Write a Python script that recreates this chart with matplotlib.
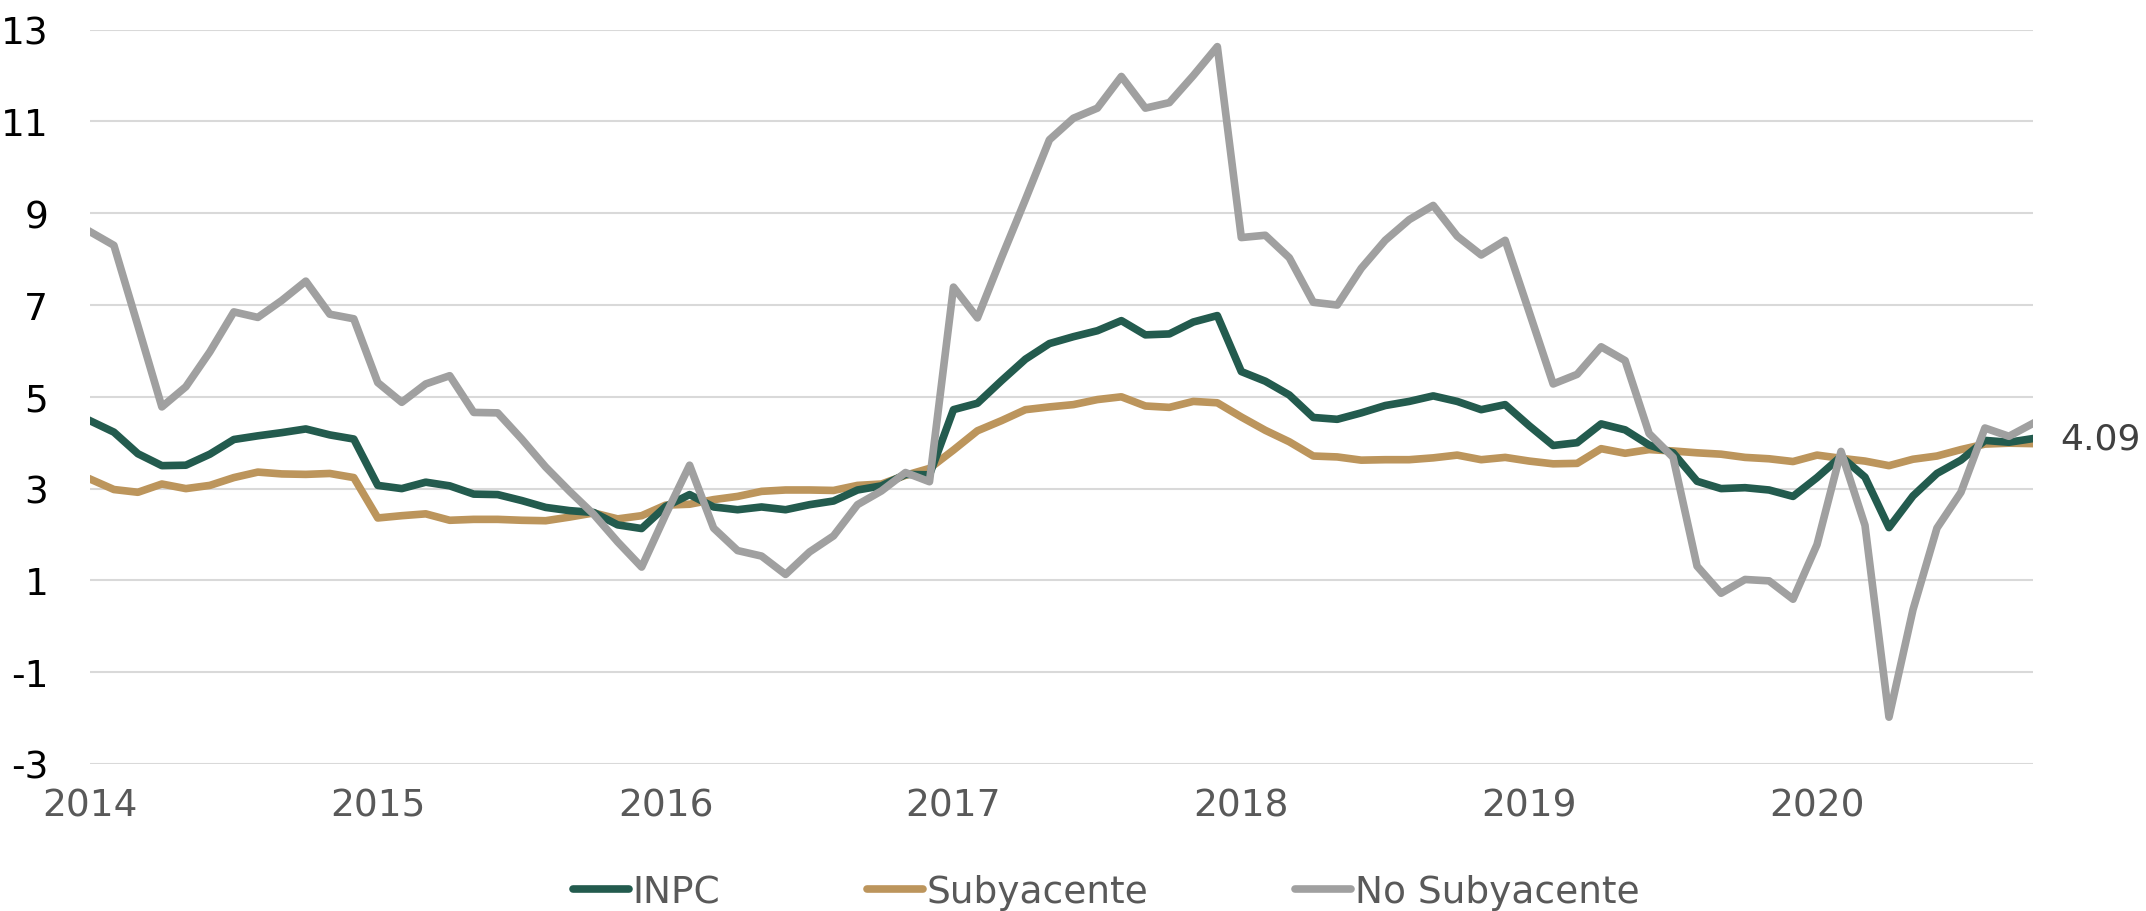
# Inflacion anual en Mexico: INPC, subyacente y no subyacente, 2014-2020
import matplotlib.pyplot as plt
import numpy as np

plt.rcParams['axes.unicode_minus'] = False

# monthly series, Jan 2014 to Oct 2020
years = ['2014', '2015', '2016', '2017', '2018', '2019', '2020']

inpc = [4.48, 4.23, 3.76, 3.50, 3.51, 3.75, 4.07, 4.15, 4.22, 4.30, 4.17, 4.08,
        3.07, 3.00, 3.14, 3.06, 2.88, 2.87, 2.74, 2.59, 2.52, 2.48, 2.21, 2.13,
        2.61, 2.87, 2.60, 2.54, 2.60, 2.54, 2.65, 2.73, 2.97, 3.06, 3.31, 3.30,
        4.72, 4.86, 5.35, 5.82, 6.16, 6.31, 6.44, 6.66, 6.35, 6.37, 6.63, 6.77,
        5.55, 5.34, 5.04, 4.55, 4.51, 4.65, 4.81, 4.90, 5.02, 4.90, 4.72, 4.83,
        4.37, 3.94, 4.00, 4.41, 4.28, 3.95, 3.78, 3.16, 3.00, 3.02, 2.97, 2.83,
        3.24, 3.70, 3.25, 2.15, 2.84, 3.33, 3.62, 4.05, 4.01, 4.09]

subyacente = [3.21, 2.98, 2.92, 3.10, 3.00, 3.07, 3.24, 3.36, 3.32, 3.31, 3.33, 3.24,
              2.36, 2.41, 2.45, 2.31, 2.33, 2.33, 2.31, 2.30, 2.38, 2.47, 2.34, 2.41,
              2.64, 2.66, 2.76, 2.83, 2.94, 2.97, 2.97, 2.96, 3.07, 3.10, 3.29, 3.44,
              3.84, 4.26, 4.48, 4.72, 4.78, 4.83, 4.94, 5.00, 4.80, 4.77, 4.90, 4.87,
              4.56, 4.27, 4.02, 3.71, 3.69, 3.62, 3.63, 3.63, 3.67, 3.73, 3.63, 3.68,
              3.60, 3.54, 3.55, 3.87, 3.77, 3.85, 3.82, 3.78, 3.75, 3.68, 3.65, 3.59,
              3.73, 3.66, 3.60, 3.50, 3.64, 3.71, 3.85, 3.97, 3.99, 3.98]

no_subyacente = [8.60, 8.30, 6.55, 4.78, 5.22, 5.98, 6.85, 6.73, 7.10, 7.52, 6.80, 6.70,
                 5.31, 4.88, 5.28, 5.46, 4.66, 4.65, 4.08, 3.47, 2.94, 2.44, 1.84, 1.29,
                 2.43, 3.51, 2.14, 1.65, 1.53, 1.13, 1.62, 1.97, 2.65, 2.95, 3.35, 3.15,
                 7.39, 6.72, 8.03, 9.30, 10.60, 11.07, 11.29, 11.98, 11.29, 11.41, 12.00, 12.63,
                 8.47, 8.52, 8.03, 7.06, 7.00, 7.80, 8.41, 8.86, 9.17, 8.50, 8.09, 8.41,
                 6.85, 5.28, 5.49, 6.09, 5.79, 4.20, 3.68, 1.31, 0.72, 1.02, 0.99, 0.59,
                 1.78, 3.81, 2.20, -1.98, 0.36, 2.14, 2.92, 4.32, 4.14, 4.42]

months = np.arange(len(inpc))

fig = plt.figure(figsize=(21.46, 9.12), dpi=100)
ax = fig.add_axes([0.0419, 0.1612, 0.9054, 0.8052])

ax.plot(months, inpc, color='#235B4E', lw=5.5, label='INPC', zorder=3)
ax.plot(months, subyacente, color='#BC955C', lw=5.5, label='Subyacente', zorder=2)
ax.plot(months, no_subyacente, color='#A0A0A0', lw=5.5, label='No Subyacente', zorder=4)

ax.set_xlim(0, len(inpc) - 1)
ax.set_ylim(-3, 13)
ax.set_yticks(np.arange(-3, 14, 2))
ax.set_xticks(np.arange(len(years)) * 12)
ax.set_xticklabels(years)

ax.grid(axis='y', color='#d9d9d9', lw=1.5)
ax.set_axisbelow(True)
for s in ax.spines.values():
    s.set_visible(False)
ax.tick_params(axis='y', length=0, pad=30, labelsize=27, labelcolor='black')
ax.tick_params(axis='x', length=0, pad=17, labelsize=27, labelcolor='#595959')

# last value label
ax.annotate(f'{inpc[-1]:.2f}', xy=(months[-1], inpc[-1]), xytext=(20, 0),
            textcoords='offset points', va='center', ha='left',
            fontsize=26, color='#404040', annotation_clip=False)

leg = fig.legend(loc='center', bbox_to_anchor=(0.5154, 0.0208), ncol=3,
                 frameon=False, fontsize=27, handlelength=1.5, handletextpad=0.1,
                 columnspacing=3.9, labelcolor='#595959')
for line in leg.get_lines():
    line.set_solid_capstyle('round')
    line.set_linewidth(5.5)

fig.savefig('out.png', dpi=100, facecolor='white')
